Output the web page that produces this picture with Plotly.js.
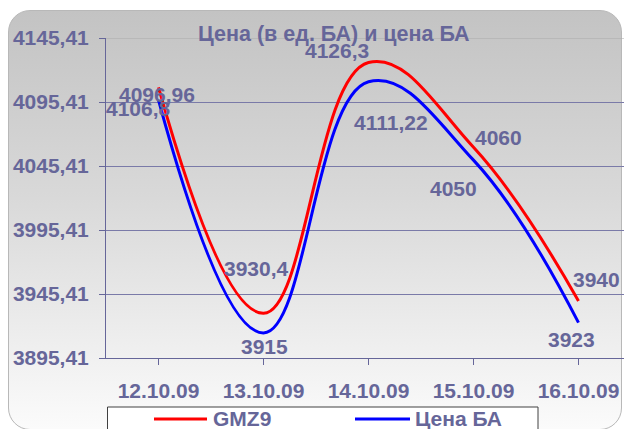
<!DOCTYPE html>
<html>
<head>
<meta charset="utf-8">
<script src="https://cdn.plot.ly/plotly-3.0.1.min.js"></script>
<style>
  html, body { margin:0; padding:0; width:624px; height:429px; overflow:hidden; background:#ffffff; }
  #frame { position:absolute; left:8px; top:10px; width:614px; height:420px; border-radius:22px;
           border:1px solid #b8b8b8; box-sizing:border-box;
           background:linear-gradient(to bottom, #c3c3c3 0%, #d9d9d9 45%, #fbfbfb 100%); }
  #chart { position:absolute; left:0; top:0; width:624px; height:429px; }
</style>
</head>
<body>
<div id="frame"></div>
<div id="chart"></div>
<script>
const categories = ["12.10.09", "13.10.09", "14.10.09", "15.10.09", "16.10.09"];
const gmz9 = [4106.8, 3930.4, 4126.3, 4060, 3940];
const cenaBA = [4096.96, 3915, 4111.22, 4050, 3923];
const seriesNames = ["GMZ9", "Цена БА"];
const seriesColors = ["#ff0000", "#0000ff"];
const chartTitle = "Цена (в ед. БА) и цена БА";

const slate = "#666699";
const fontFam = "'Liberation Sans', Arial, sans-serif";
const fmt = v => String(v).replace('.', ',');

// plot area geometry (px)
const W = 624, H = 429, ML = 106, MT = 38, MB = 71;
const PW = W - ML, PH = H - MT - MB;
const px2x = p => (p - ML) / PW;
const px2y = p => (H - MB - p) / PH;

// label offsets (px) for each point: [xshift, yshift]
const redOff = [[-20,-21],[-7,45],[-32,12],[25,10],[18,21]];
const blueOff = [[-2,6],[1,-14],[22,-41],[-20,-28],[-7,-17]];

const xIdx = categories.map((c, i) => i);

const traces = [
  { x: xIdx, y: gmz9, name: seriesNames[0], type: 'scatter', mode: 'lines',
    line: { color: seriesColors[0], width: 3, shape: 'spline', smoothing: 1.2 } },
  { x: xIdx, y: cenaBA, name: seriesNames[1], type: 'scatter', mode: 'lines',
    line: { color: seriesColors[1], width: 3, shape: 'spline', smoothing: 1.2 } }
];

const annFont = { family: fontFam, size: 21, color: slate };
const annotations = [];
gmz9.forEach((v, i) => annotations.push({ x: i, y: v, xref: 'x', yref: 'y', text: '<b>' + fmt(v) + '</b>',
  showarrow: false, xshift: redOff[i][0], yshift: redOff[i][1], font: annFont }));
cenaBA.forEach((v, i) => annotations.push({ x: i, y: v, xref: 'x', yref: 'y', text: '<b>' + fmt(v) + '</b>',
  showarrow: false, xshift: blueOff[i][0], yshift: blueOff[i][1], font: annFont }));

// manual legend (box, line samples, names)
const shapes = [
  { type: 'line', xref: 'paper', yref: 'y', x0: 0, x1: 1, y0: 4145.41, y1: 4145.41,
    line: { color: '#a9a9a9', width: 1 }, layer: 'above' },
  { type: 'rect', xref: 'paper', yref: 'paper', x0: px2x(107.5), x1: px2x(538), y0: px2y(407), y1: px2y(445),
    line: { color: '#404040', width: 1 }, fillcolor: '#ffffff', layer: 'above' }
];
const legLineX = [[154, 207], [355, 410]];
const legTextX = [211, 413];
seriesNames.forEach((n, i) => {
  shapes.push({ type: 'line', xref: 'paper', yref: 'paper', x0: px2x(legLineX[i][0]), x1: px2x(legLineX[i][1]),
    y0: px2y(419), y1: px2y(419), line: { color: seriesColors[i], width: 3 }, layer: 'above' });
  annotations.push({ xref: 'paper', yref: 'paper', x: px2x(legTextX[i]), y: px2y(418.5), xanchor: 'left', yanchor: 'middle',
    text: '<b>' + n + '</b>', showarrow: false, font: { family: fontFam, size: 21, color: slate } });
});

const layout = {
  width: W, height: H,
  margin: { l: ML, r: 0, t: MT, b: MB },
  paper_bgcolor: 'rgba(0,0,0,0)', plot_bgcolor: 'rgba(0,0,0,0)',
  separators: ', ',
  showlegend: false,
  title: { text: '<b>' + chartTitle + '</b>', font: { family: fontFam, size: 21.5, color: slate },
           xref: 'container', x: 0.535, xanchor: 'center', yref: 'container', y: 1 - 33/H, yanchor: 'middle' },
  xaxis: {
    range: [-0.5, -0.5 + PW/105], tickmode: 'array', tickvals: xIdx, ticktext: categories,
    showgrid: false, zeroline: false, showline: true, linecolor: slate, linewidth: 1,
    ticks: 'outside', ticklen: 6, tickcolor: slate, tickson: 'boundaries',
    ticklabelstandoff: 8,
    tickfont: { family: fontFam, size: 21, color: slate, weight: 'bold' }
  },
  yaxis: {
    range: [3895.41, 4145.41], tick0: 3895.41, dtick: 50, tickformat: '.2f',
    showgrid: true, gridcolor: '#7a7aa8', gridwidth: 1, zeroline: false,
    showline: true, linecolor: slate, linewidth: 1,
    ticks: 'outside', ticklen: 6, tickcolor: slate, ticklabelstandoff: 6,
    tickfont: { family: fontFam, size: 21, color: slate, weight: 'bold' }
  },
  shapes: shapes,
  annotations: annotations
};

Plotly.newPlot('chart', traces, layout, { displayModeBar: false, staticPlot: true });
</script>
</body>
</html>
